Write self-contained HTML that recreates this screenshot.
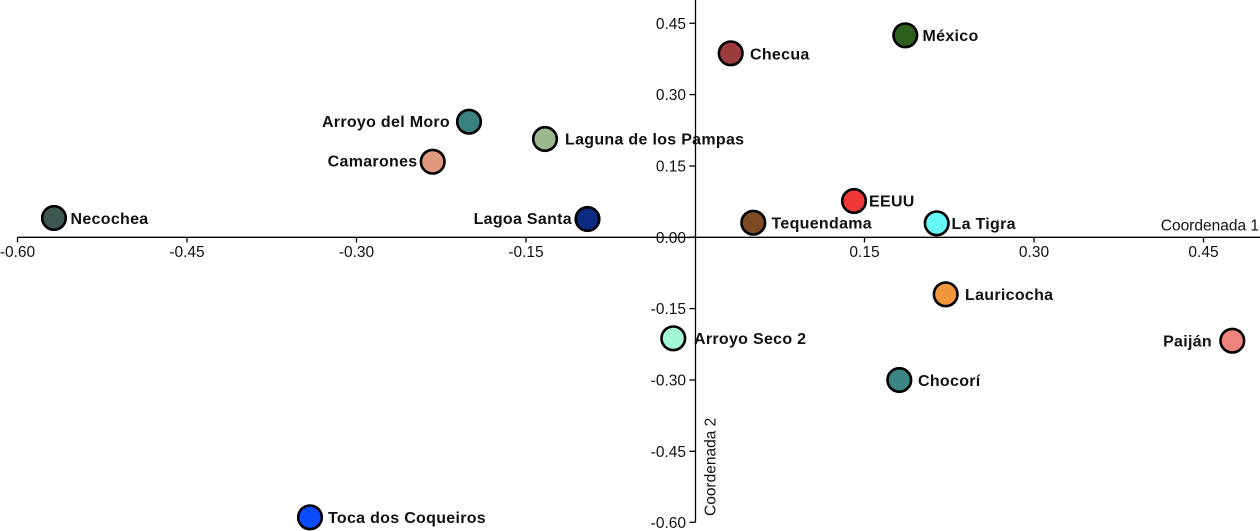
<!DOCTYPE html>
<html><head><meta charset="utf-8"><style>
html,body{margin:0;padding:0;background:#fff;}
svg{display:block;font-family:"Liberation Sans",Arial,sans-serif;}
.t{font-size:15.5px;fill:#111;}
.l{font-size:16px;font-weight:bold;fill:#111;letter-spacing:0.3px;}
circle{stroke:#000;stroke-width:2.6;}
</style></head><body>
<svg width="1260" height="531" viewBox="0 0 1260 531" xmlns="http://www.w3.org/2000/svg">
<rect width="1260" height="531" fill="#fff"/>
<g stroke="#000" stroke-width="1.3" fill="none">
<line x1="17.5" y1="237.3" x2="1260" y2="237.3"/>
<line x1="695.5" y1="0" x2="695.5" y2="522.3"/>
<line x1="17.5" y1="237.3" x2="17.5" y2="242.5"/>
<line x1="187" y1="237.3" x2="187" y2="242.5"/>
<line x1="356.5" y1="237.3" x2="356.5" y2="242.5"/>
<line x1="526" y1="237.3" x2="526" y2="242.5"/>
<line x1="864.5" y1="237.3" x2="864.5" y2="242.5"/>
<line x1="1034" y1="237.3" x2="1034" y2="242.5"/>
<line x1="1203.5" y1="237.3" x2="1203.5" y2="242.5"/>
<line x1="689.5" y1="23.3" x2="695.5" y2="23.3"/>
<line x1="689.5" y1="94.6" x2="695.5" y2="94.6"/>
<line x1="689.5" y1="166" x2="695.5" y2="166"/>
<line x1="689.5" y1="237.3" x2="695.5" y2="237.3"/>
<line x1="689.5" y1="308.6" x2="695.5" y2="308.6"/>
<line x1="689.5" y1="380" x2="695.5" y2="380"/>
<line x1="689.5" y1="451.3" x2="695.5" y2="451.3"/>
<line x1="689.5" y1="522.3" x2="695.5" y2="522.3"/>
</g>
<g class="t" text-anchor="middle">
<text x="17.5" y="257">-0.60</text>
<text x="187" y="257">-0.45</text>
<text x="356.5" y="257">-0.30</text>
<text x="526" y="257">-0.15</text>
<text x="864.5" y="257">0.15</text>
<text x="1034" y="257">0.30</text>
<text x="1203.5" y="257">0.45</text>
</g>
<g class="t" text-anchor="end">
<text x="686" y="28.8">0.45</text>
<text x="686" y="100.1">0.30</text>
<text x="686" y="171.5">0.15</text>
<text x="686" y="242.8">0.00</text>
<text x="686" y="314.1">-0.15</text>
<text x="686" y="385.5">-0.30</text>
<text x="686" y="456.8">-0.45</text>
<text x="686" y="527.8">-0.60</text>
<text x="1259" y="230.5">Coordenada 1</text>
</g>
<text class="t" transform="translate(715.5,516) rotate(-90)">Coordenada 2</text>

<g>
<circle cx="54" cy="218" r="11.8" fill="#3d5753"/>
<circle cx="469" cy="121.7" r="11.8" fill="#3a8080"/>
<circle cx="545" cy="139" r="11.8" fill="#9bb88f"/>
<circle cx="432.7" cy="161.7" r="11.8" fill="#e0997f"/>
<circle cx="587.5" cy="219" r="11.8" fill="#0b2a80"/>
<circle cx="730.7" cy="53.3" r="11.8" fill="#9c3b3b"/>
<circle cx="905.3" cy="35.3" r="11.8" fill="#2c5e1c"/>
<circle cx="854" cy="201" r="11.8" fill="#ee3838"/>
<circle cx="753.3" cy="222.7" r="11.8" fill="#7d4a24"/>
<circle cx="936.7" cy="223.3" r="11.8" fill="#66f7f7"/>
<circle cx="945.7" cy="294.3" r="11.8" fill="#f0973e"/>
<circle cx="1232.3" cy="340.7" r="11.8" fill="#f0847d"/>
<circle cx="673.3" cy="338.3" r="11.8" fill="#a3f7d4"/>
<circle cx="899.3" cy="380" r="11.8" fill="#3b8585"/>
<circle cx="310" cy="517.3" r="11.8" fill="#0a4cff"/>
</g>
<g class="l">
<text x="70.5" y="224">Necochea</text>
<text x="565" y="144.5">Laguna de los Pampas</text>
<text x="750" y="59.5">Checua</text>
<text x="922.5" y="41">México</text>
<text x="869" y="206.5">EEUU</text>
<text x="771.5" y="228.5">Tequendama</text>
<text x="951.5" y="229">La Tigra</text>
<text x="965" y="300">Lauricocha</text>
<text x="694" y="344">Arroyo Seco 2</text>
<text x="918" y="386">Chocorí</text>
<text x="328" y="523">Toca dos Coqueiros</text>
</g>
<g class="l" text-anchor="end">
<text x="450" y="127">Arroyo del Moro</text>
<text x="417.5" y="166.5">Camarones</text>
<text x="572" y="224">Lagoa Santa</text>
<text x="1212" y="346.5">Paiján</text>
</g>
</svg>
</body></html>
